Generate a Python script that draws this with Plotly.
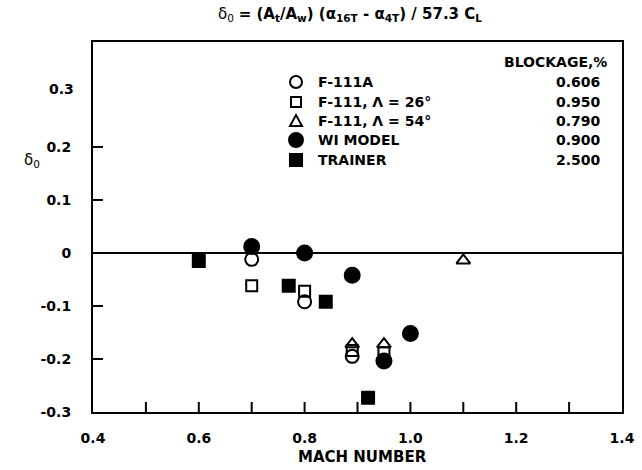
import plotly.graph_objects as go

# Wall-interference parameter delta_0 versus Mach number for each model
f111a_mach = [0.70, 0.80, 0.89]
f111a_delta = [-0.012, -0.092, -0.195]

f111_26_mach = [0.70, 0.80, 0.89, 0.95]
f111_26_delta = [-0.062, -0.072, -0.184, -0.188]

f111_54_mach = [0.89, 0.95, 1.10]
f111_54_delta = [-0.172, -0.172, -0.014]

wi_mach = [0.70, 0.80, 0.89, 0.95, 1.00]
wi_delta = [0.012, 0.000, -0.042, -0.204, -0.152]

trainer_mach = [0.60, 0.77, 0.84, 0.92]
trainer_delta = [-0.015, -0.062, -0.092, -0.273]

series_names = ["F-111A", "F-111, \u039b = 26\u00b0", "F-111, \u039b = 54\u00b0", "WI MODEL", "TRAINER"]
blockage = ["0.606", "0.950", "0.790", "0.900", "2.500"]

x_ticks = [0.4, 0.5, 0.6, 0.7, 0.8, 0.9, 1.0, 1.1, 1.2, 1.3, 1.4]
x_tick_text = ["0.4", "", "0.6", "", "0.8", "", "1.0", "", "1.2", "", "1.4"]
y_ticks = [-0.3, -0.2, -0.1, 0.0, 0.1, 0.2]
y_tick_text = ["-0.3", "-0.2", "-0.1", "0", "0.1", "0.2"]

FONT = "DejaVu Sans"
FS = 14
W, H = 642, 470
L, R, T, B = 93, 20, 42, 58
PW, PH = W - L - R, H - T - B
TICK_LEN = 10
X_RANGE = [0.4, 1.4]
Y_RANGE = [-0.3, 0.398]


def px_to_paper(px, py):
    return (px - L) / PW, (H - B - py) / PH


def label(px, py, text, xanchor="center", size=FS):
    x, y = px_to_paper(px, py)
    return dict(x=x, y=y, xref="paper", yref="paper", text=text, showarrow=False,
                xanchor=xanchor, yanchor="middle",
                font=dict(size=size, family=FONT, color="black"))


fig = go.Figure()

series = [
    (f111a_mach, f111a_delta, "circle-open", 13),
    (f111_26_mach, f111_26_delta, "square-open", 11),
    (f111_54_mach, f111_54_delta, "triangle-up-open", 12),
    (wi_mach, wi_delta, "circle", 15),
    (trainer_mach, trainer_delta, "square", 12),
]
for (xs, ys, sym, size), name in zip(series, series_names):
    fig.add_trace(go.Scatter(
        x=xs, y=ys, mode="markers", name=name, showlegend=False,
        marker=dict(symbol=sym, size=size, color="black",
                    line=dict(color="black", width=2)),
    ))

annotations = []
shapes = []

# inward tick marks (none at the frame edges, the zero line or 0.3)
x_len = TICK_LEN / PW * (X_RANGE[1] - X_RANGE[0])
y_len = TICK_LEN / PH * (Y_RANGE[1] - Y_RANGE[0])
for xv in x_ticks[1:-1]:
    shapes.append(dict(type="line", xref="x", yref="y", x0=xv, x1=xv,
                       y0=Y_RANGE[0], y1=Y_RANGE[0] + y_len,
                       line=dict(color="black", width=2)))
for yv in y_ticks:
    if yv in (-0.3, 0.0):
        continue
    shapes.append(dict(type="line", xref="x", yref="y", x0=X_RANGE[0], x1=X_RANGE[0] + x_len,
                       y0=yv, y1=yv, line=dict(color="black", width=2)))

# key: symbol, series name, blockage value
annotations.append(label(555, 62, "<b>BLOCKAGE,%</b>"))
key_rows = [82, 102, 121, 140, 160]
sx = 296
for i, (name, val, row) in enumerate(zip(series_names, blockage, key_rows)):
    annotations.append(label(316, row, f"<b>{name}</b>", xanchor="left"))
    annotations.append(label(578, row, f"<b>{val}</b>"))
    x0, y0 = px_to_paper(sx - 6, row + 6)
    x1, y1 = px_to_paper(sx + 6, row - 6)
    common = dict(xref="paper", yref="paper", line=dict(color="black", width=2))
    if i == 0:
        shapes.append(dict(type="circle", x0=x0, y0=y0, x1=x1, y1=y1, **common))
    elif i == 1:
        a0, b0 = px_to_paper(sx - 5, row + 5)
        a1, b1 = px_to_paper(sx + 5, row - 5)
        shapes.append(dict(type="rect", x0=a0, y0=b0, x1=a1, y1=b1, **common))
    elif i == 2:
        p1 = px_to_paper(sx - 6, row + 5)
        p2 = px_to_paper(sx + 6, row + 5)
        p3 = px_to_paper(sx, row - 6)
        path = f"M {p1[0]} {p1[1]} L {p2[0]} {p2[1]} L {p3[0]} {p3[1]} Z"
        shapes.append(dict(type="path", path=path, **common))
    elif i == 3:
        a0, b0 = px_to_paper(sx - 7, row + 7)
        a1, b1 = px_to_paper(sx + 7, row - 7)
        shapes.append(dict(type="circle", x0=a0, y0=b0, x1=a1, y1=b1,
                           fillcolor="black", **common))
    else:
        shapes.append(dict(type="rect", x0=x0, y0=y0, x1=x1, y1=y1,
                           fillcolor="black", **common))

# tick label for 0.3 (axis carries no tick mark there)
annotations.append(dict(x=0, y=0.3, xref="paper", yref="y", text="<b>0.3</b>",
                        xanchor="right", yanchor="middle", xshift=-17, yshift=5,
                        showarrow=False, font=dict(size=FS, family=FONT, color="black")))
# y-axis symbol
annotations.append(label(32, 160, "\u03b4<sub>0</sub>", size=15))
# formula heading
annotations.append(label(
    350, 14,
    "\u03b4<sub>0</sub> <b>= (A<sub>t</sub>/A<sub>w</sub>) (\u03b1<sub>16T</sub> - \u03b1<sub>4T</sub>) / 57.3 C<sub>L</sub></b>",
    size=15))
# x-axis title
annotations.append(label(362, 457, "<b>MACH NUMBER</b>", size=15))

fig.update_layout(
    width=W, height=H,
    margin=dict(l=L, r=R, t=T, b=B, autoexpand=False),
    paper_bgcolor="white", plot_bgcolor="white",
    font=dict(family=FONT, size=FS, color="black"),
    showlegend=False,
    annotations=annotations,
    shapes=shapes,
    xaxis=dict(
        range=X_RANGE, tickvals=x_ticks, ticktext=x_tick_text, automargin=False,
        ticks="", showline=True, linecolor="black", linewidth=2, mirror=True,
        showgrid=False, zeroline=False, ticklabelstandoff=12,
        tickfont=dict(size=FS, family=FONT, color="black", weight="bold"),
    ),
    yaxis=dict(
        range=Y_RANGE, tickvals=y_ticks, ticktext=y_tick_text, automargin=False,
        ticks="", showline=True, linecolor="black", linewidth=2, mirror=True,
        showgrid=False, zeroline=True, zerolinecolor="black", zerolinewidth=1.5,
        ticklabelstandoff=17,
        tickfont=dict(size=FS, family=FONT, color="black", weight="bold"),
    ),
)

fig.write_html("out.html")
